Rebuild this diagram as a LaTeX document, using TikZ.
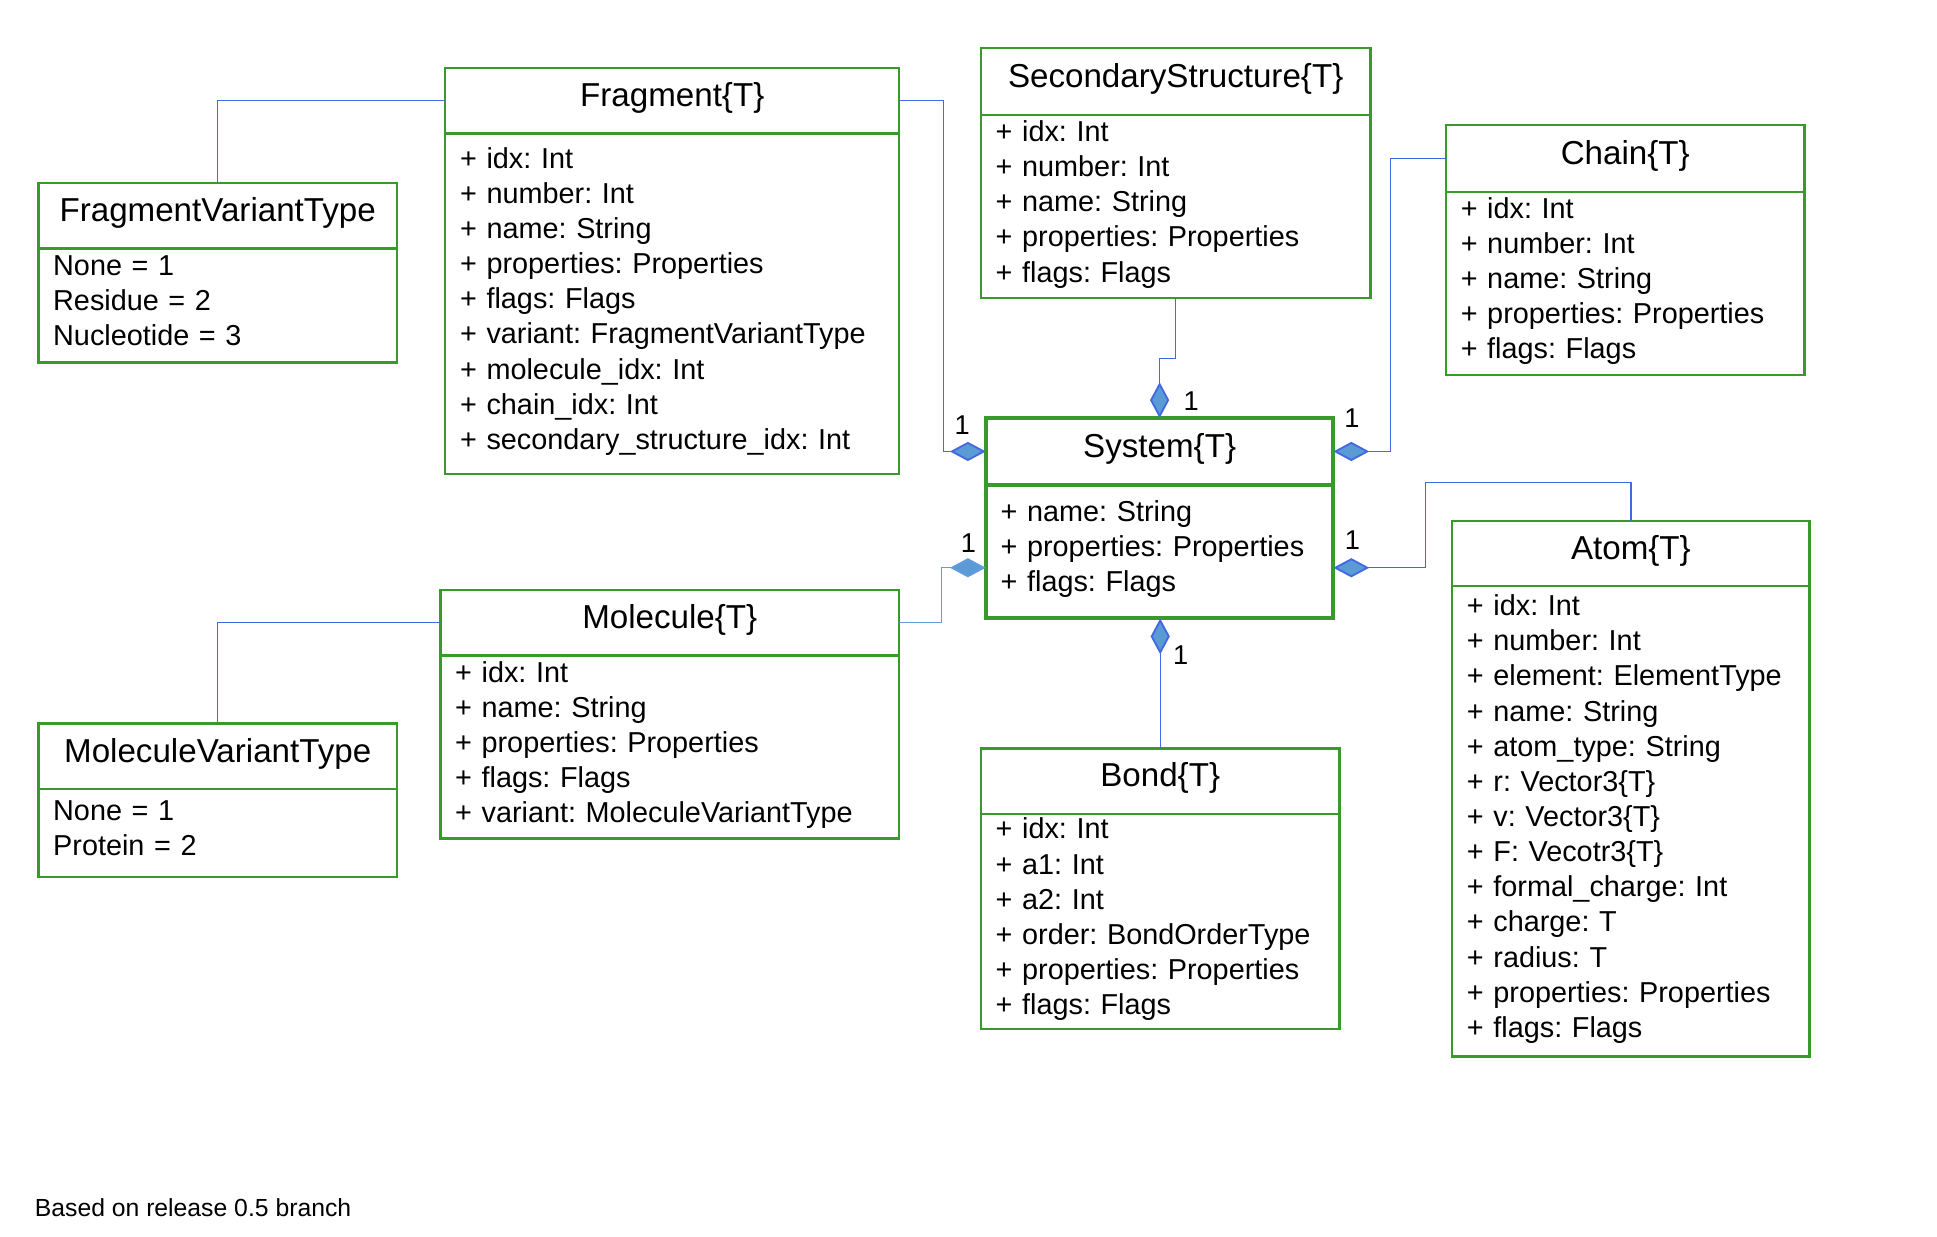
\documentclass[tikz,border=0pt]{standalone}
\usepackage{fontspec}
\setmainfont{Liberation Sans}
\frenchspacing
\usetikzlibrary{positioning}
\usetikzlibrary{arrows.meta}
\usetikzlibrary{calc}
\definecolor{umlgreen}{RGB}{57,154,44}
\definecolor{linkblue}{RGB}{65,105,225}
\definecolor{softblue}{RGB}{100,155,222}
\definecolor{diafill}{RGB}{91,155,213}
\newcommand{\headfont}{\fontsize{26.8}{32}\selectfont}
\newcommand{\bodyfont}{\fontsize{23.3}{28.4}\selectfont}
\tikzset {
  % class name compartment
  classhead/.style={draw=umlgreen, line width=1.9pt, anchor=north west, outer sep=0pt,
    inner sep=0pt, font=\headfont, text height=19.5pt, text depth=10pt},
  % attribute compartment, hung under the name
  classbody/.style={draw=umlgreen, line width=1.9pt, anchor=north, outer sep=0pt,
    inner xsep=12pt, inner ysep=0pt, align=left, font=\bodyfont,
    execute at end node={\rule[-8.5pt]{0pt}{8.5pt}}},
  % the central class has a heavier border
  central/.style={line width=3.2pt},
  % connectors
  link/.style={draw=linkblue, line width=1pt},
  softlink/.style={draw=softblue},
  agg/.style={link, -{Diamond[length=29pt, width=15.5pt, fill=diafill, line width=1.5pt]}},
  mult/.style={font=\fontsize{22}{26}\selectfont, inner sep=1pt},
}

\begin{document}
\begin{tikzpicture}[x=1pt, y=-1pt]
  \useasboundingbox (0,0) rectangle (1566,999.3);

  % enumerations
  \node[classhead, minimum width=290pt, minimum height=53pt] (fvt) at (31,148) {FragmentVariantType};
  \node[classbody, minimum width=290pt, text width=266pt, minimum height=92pt] (fvtb) at (fvt.south)
    {None = 1\\Residue = 2\\Nucleotide = 3};

  \node[classhead, minimum width=290pt, minimum height=53pt] (mvt) at (31,585) {MoleculeVariantType};
  \node[classbody, minimum width=290pt, text width=266pt, minimum height=71pt] (mvtb) at (mvt.south)
    {None = 1\\Protein = 2};

  % classes
  \node[classhead, minimum width=367pt, minimum height=53pt] (frag) at (360,55) {Fragment\{T\}};
  \node[classbody, minimum width=367pt, text width=343pt, minimum height=275pt] (fragb) at (frag.south)
    {+ idx: Int\\+ number: Int\\+ name: String\\+ properties: Properties\\+ flags: Flags\\
     + variant: FragmentVariantType\\+ molecule\_idx: Int\\+ chain\_idx: Int\\+ secondary\_structure\_idx: Int};

  \node[classhead, minimum width=315pt, minimum height=54pt] (ss) at (793,39) {SecondaryStructure\{T\}};
  \node[classbody, minimum width=315pt, text width=291pt, minimum height=148pt] (ssb) at (ss.south)
    {+ idx: Int\\+ number: Int\\+ name: String\\+ properties: Properties\\+ flags: Flags};

  \node[classhead, minimum width=290pt, minimum height=54pt] (chain) at (1169,101) {Chain\{T\}};
  \node[classbody, minimum width=290pt, text width=266pt, minimum height=148pt] (chainb) at (chain.south)
    {+ idx: Int\\+ number: Int\\+ name: String\\+ properties: Properties\\+ flags: Flags};

  \node[classhead, central, minimum width=281pt, minimum height=54pt] (sys) at (797,338) {System\{T\}};
  \node[classbody, central, minimum width=281pt, text width=257pt, minimum height=108pt] (sysb) at (sys.south)
    {+ name: String\\+ properties: Properties\\+ flags: Flags};

  \node[classhead, minimum width=289pt, minimum height=53pt] (atom) at (1174,421) {Atom\{T\}};
  \node[classbody, minimum width=289pt, text width=265pt, minimum height=380pt] (atomb) at (atom.south)
    {+ idx: Int\\+ number: Int\\+ element: ElementType\\+ name: String\\+ atom\_type: String\\
     + r: Vector3\{T\}\\+ v: Vector3\{T\}\\+ F: Vecotr3\{T\}\\+ formal\_charge: Int\\+ charge: T\\
     + radius: T\\+ properties: Properties\\+ flags: Flags};

  \node[classhead, minimum width=371pt, minimum height=53pt] (mol) at (356,477) {Molecule\{T\}};
  \node[classbody, minimum width=371pt, text width=347pt, minimum height=148pt] (molb) at (mol.south)
    {+ idx: Int\\+ name: String\\+ properties: Properties\\+ flags: Flags\\+ variant: MoleculeVariantType};

  \node[classhead, minimum width=290pt, minimum height=53pt] (bond) at (793,605) {Bond\{T\}};
  \node[classbody, minimum width=290pt, text width=266pt, minimum height=174pt] (bondb) at (bond.south)
    {+ idx: Int\\+ a1: Int\\+ a2: Int\\+ order: BondOrderType\\+ properties: Properties\\+ flags: Flags};

  \node[anchor=west, inner sep=0pt, font=\fontsize{20}{24}\selectfont] (note) at (28,976)
    {Based on release 0.5 branch};

  % connectors
  \draw[link] (fvt.north) |- (frag.west);
  \draw[link] (mvt.north) |- (mol.west);
  \draw[agg] (frag.east) -- ++(36,0) |- node[mult, pos=0.72, above=12pt] {1} (sys.west);
  \draw[agg] (ssb.south) -- ++(0,49) -| node[mult, pos=0.861, right=18pt] {1} (sys.north);
  \draw[agg] (chain.west) -- ++(-45,0) |- node[mult, pos=0.837, above=18pt] {1} (sys.east);
  \draw[agg] (atom.north) -- ++(0,-31) -- ++(-166,0)
    |- node[mult, pos=0.897, above=13pt] {1} ($(sysb.east)+(0,13)$);
  \draw[agg, softlink] (mol.east) -- ++(34,0)
    |- node[mult, pos=0.806, above=11pt] {1} ($(sysb.west)+(0,13)$);
  \draw[agg] (bond.north) -- node[mult, pos=0.719, right=9pt] {1} (bond.north |- sysb.south);
\end{tikzpicture}
\end{document}
